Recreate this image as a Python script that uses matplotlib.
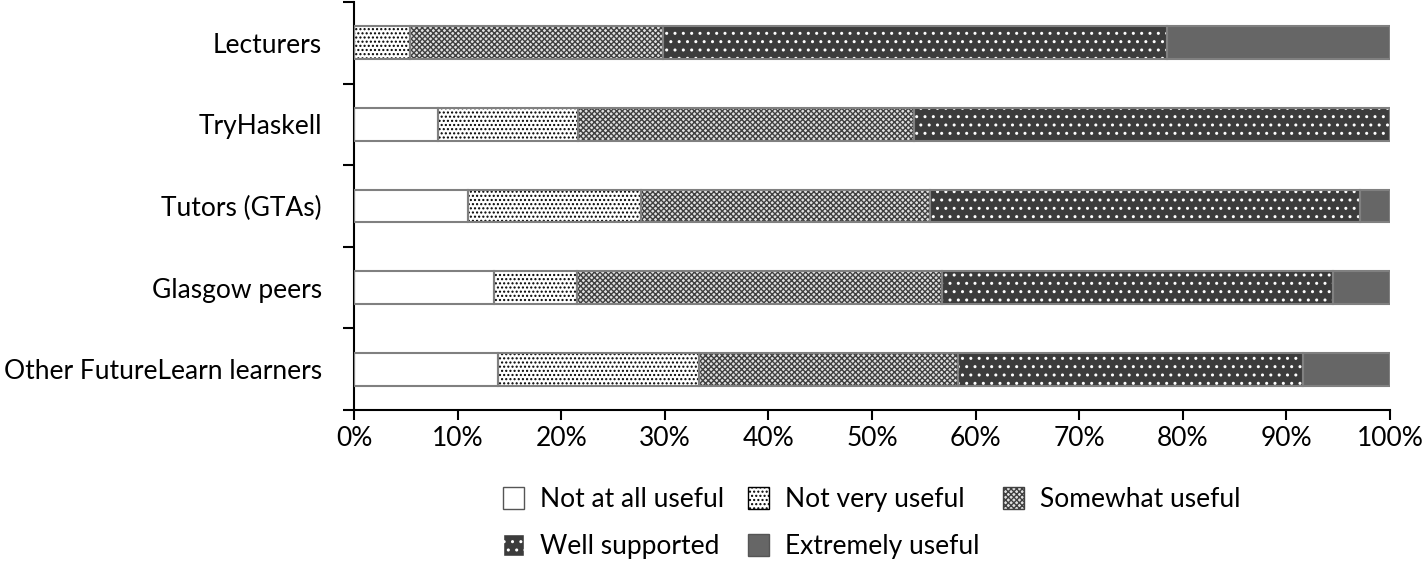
import numpy as np
import matplotlib
matplotlib.use('Agg')
import matplotlib.pyplot as plt
from matplotlib.patches import Patch

plt.rcParams['font.family'] = ['Lato', 'DejaVu Sans']
plt.rcParams['hatch.linewidth'] = 1.0

# ---- data (percent of respondents) ----
sources = ['Lecturers', 'TryHaskell', 'Tutors (GTAs)', 'Glasgow peers',
           'Other FutureLearn learners']
levels = ['Not at all useful', 'Not very useful', 'Somewhat useful',
          'Well supported', 'Extremely useful']
not_at_all = [0.0, 8.1, 11.0, 13.5, 13.9]
not_very = [5.4, 13.5, 16.7, 8.0, 19.4]
somewhat = [24.4, 32.5, 27.9, 35.3, 25.0]
well_supported = [48.7, 45.9, 41.5, 37.7, 33.3]
extremely = [21.5, 0.0, 2.9, 5.5, 8.4]
ticks_pct = list(range(0, 101, 10))

series = [not_at_all, not_very, somewhat, well_supported, extremely]
# facecolor, hatch, hatch colour
styles = [
    ('white', '', 'white'),
    ('white', '....', 'black'),
    ('#e0e0e0', 'xxxxxx', '#404040'),
    ('#3c3c3c', '..', 'white'),
    ('#666666', '', '#666666'),
]
edge = '#808080'

fig = plt.figure(figsize=(14.22, 5.62), dpi=100)
ax = fig.add_axes([354 / 1422, 1 - 410 / 562, 1036 / 1422, 408 / 562])

y = np.arange(len(sources))
left = np.zeros(len(sources))
handles = []
for vals, (fc, hatch, hc), name in zip(series, styles, levels):
    vals = np.array(vals)
    # fill + hatch (hatch takes the edge colour), then outline on top
    ax.barh(y, vals, left=left, height=0.4, color=fc, hatch=hatch,
            edgecolor=hc, linewidth=0, zorder=2)
    ax.barh(y, vals, left=left, height=0.4, fill=False,
            edgecolor=edge, linewidth=1.5, zorder=3)
    left += vals
    handles.append(Patch(facecolor=fc, hatch=hatch,
                         edgecolor=hc if hatch else '#555555', linewidth=1))

ax.set_xlim(0, 100)
ax.set_ylim(len(sources) - 0.5, -0.5)

# category boundaries get the ticks, names sit on minor ticks
ax.set_yticks(np.arange(-0.5, len(sources), 1.0))
ax.set_yticklabels([])
ax.set_yticks(y, minor=True)
ax.set_yticklabels(sources, minor=True, fontsize=19)
ax.tick_params(axis='y', which='major', direction='out', length=8, width=1.5)
ax.tick_params(axis='y', which='minor', length=0, pad=23)

ax.set_xticks(ticks_pct)
ax.set_xticklabels([f'{t}%' for t in ticks_pct], fontsize=19)
ax.tick_params(axis='x', direction='out', length=7.5, width=1.5, pad=4)

for s in ['top', 'right']:
    ax.spines[s].set_visible(False)
for s in ['left', 'bottom']:
    ax.spines[s].set_linewidth(1.5)

# legend laid out row by row
order = [0, 3, 1, 4, 2]
fig.legend([handles[i] for i in order], [levels[i] for i in order],
           ncol=3, frameon=False, fontsize=19, loc='center',
           bbox_to_anchor=(872 / 1422, 1 - 523 / 562),
           handlelength=0.8, handleheight=0.9, handletextpad=0.6,
           columnspacing=0.9, labelspacing=0.85)

fig.savefig('out.png', dpi=100)
